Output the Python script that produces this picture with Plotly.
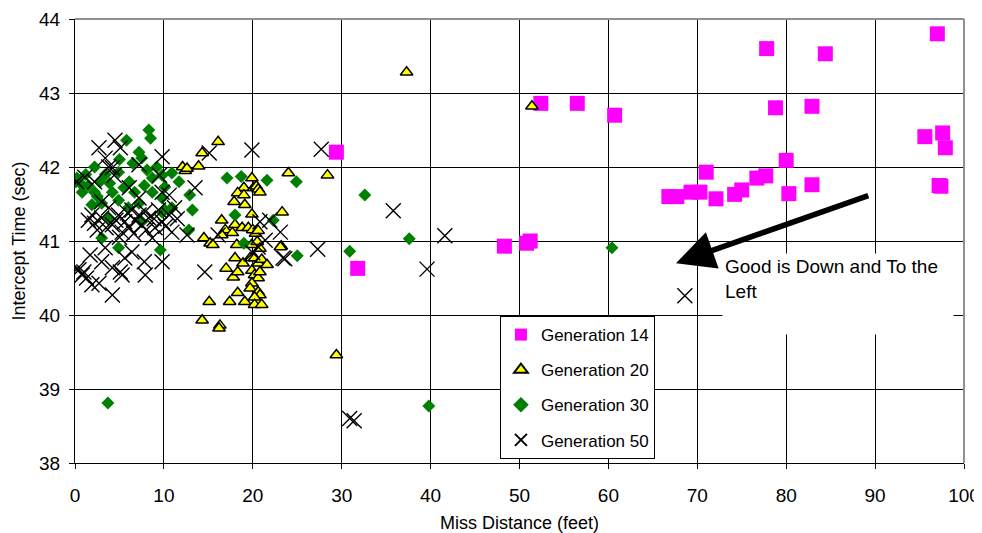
import plotly.graph_objects as go

# ---------------- data ----------------
gen14_x = [29.4, 31.8, 48.3, 50.8, 51.2, 52.4, 56.5, 60.7, 77.8, 84.4, 97.0, 78.8, 82.9, 95.6, 97.6, 97.9,
           80.0, 71.0, 66.8, 67.7, 69.3, 70.3, 72.1, 74.2, 75.0, 76.7, 77.7, 80.3, 82.9, 97.2, 97.4]
gen14_y = [42.2, 40.63, 40.93, 40.97, 41.0, 42.86, 42.86, 42.7, 43.6, 43.53, 43.8, 42.8, 42.82, 42.41, 42.46, 42.26,
           42.09, 41.93, 41.6, 41.6, 41.66, 41.66, 41.57, 41.63, 41.69, 41.85, 41.88, 41.64, 41.76, 41.75, 41.74]

gen20_x = [37.3, 51.4, 29.4, 24.0, 28.4, 23.3, 23.2,
           16.1, 14.3, 12.1, 12.4, 12.6, 13.9, 19.9, 19.0, 18.3, 19.0, 20.1, 20.4, 20.6, 20.8, 17.9, 19.1, 19.9, 16.5,
           16.9, 18.0, 18.8, 17.7, 16.5, 14.5, 15.2, 15.5, 19.5, 20.0, 20.3, 20.6, 18.2, 19.9, 20.5, 20.8, 23.1,
           18.0, 18.9, 19.7, 20.2, 20.6, 21.0, 21.6, 17.0, 17.8, 18.3, 19.9, 20.2, 20.6, 20.8, 19.9, 19.7, 20.6,
           20.8, 20.2, 18.3, 19.1, 17.4, 15.1, 20.2, 21.0, 14.3, 16.3, 16.2]
gen20_y = [43.28, 42.82, 39.46, 41.92, 41.89, 41.39, 40.93,
           42.34, 42.19, 42.0, 41.95, 41.98, 42.01, 41.85, 41.72, 41.65, 41.62, 41.72, 41.74, 41.7, 41.66, 41.53, 41.49, 41.36, 41.28,
           41.15, 41.22, 41.18, 41.11, 41.08, 41.04, 40.97, 40.95, 41.18, 41.15, 41.1, 41.14, 40.95, 40.95, 40.99, 40.9, 40.92,
           40.77, 40.7, 40.77, 40.77, 40.7, 40.75, 40.68, 40.63, 40.51, 40.58, 40.6, 40.54, 40.5, 40.58, 40.43, 40.36, 40.31,
           40.27, 40.24, 40.3, 40.18, 40.18, 40.18, 40.14, 40.14, 39.93, 39.86, 39.82]

gen30_x = [3.7, 39.8, 60.4, 24.9, 32.6, 37.6, 30.9, 25.0,
           17.1, 18.7, 21.6, 12.9, 13.2, 18.0, 22.3, 12.8, 19.0,
           8.3, 8.5, 5.8, 7.2, 7.5, 0.2, 0.1, 2.2, 3.4, 4.9, 6.1, 8.1, 8.7, 9.8, 10.9, 11.7,
           0.8, 2.2, 4.2, 6.7, 8.7, 10.1, 1.9, 3.0, 4.9, 7.2, 9.8, 10.9, 3.0, 4.9, 9.6, 9.8, 7.5, 3.8,
           1.5, 2.8, 5.5, 6.5, 9.2, 1.2, 3.9, 5.0, 7.8, 0.6, 2.5, 6.0, 10.1]
gen30_y = [38.81, 38.77, 40.91, 41.8, 41.62, 41.03, 40.86, 40.8,
           41.85, 41.87, 41.82, 41.62, 41.42, 41.35, 41.28, 41.15, 40.97,
           42.5, 42.39, 42.36, 42.2, 42.12, 41.85, 41.8, 42.0, 41.9, 41.93, 41.8, 41.96, 41.85, 41.89, 41.92, 41.8,
           41.66, 41.66, 41.66, 41.66, 41.66, 41.73, 41.49, 41.51, 41.55, 41.51, 41.58, 41.45, 41.04, 40.91, 40.88, 41.39, 41.26, 41.31,
           41.75, 41.8, 41.72, 42.05, 42.0, 41.9, 41.78, 42.1, 41.75, 41.78, 41.6, 41.45, 41.42]

gen50_x = [68.6, 27.7, 35.8, 41.6, 39.6, 27.3, 30.9, 31.4, 23.6, 19.9, 15.1, 13.5, 12.6, 16.1, 14.6, 21.4, 23.1, 23.4,
           20.0, 20.6, 20.8, 21.9,
           2.7, 4.5, 5.1, 3.4, 3.8, 4.2, 4.4, 0.2, 1.1, 2.2, 9.8, 9.5, 7.2, 7.2, 6.1, 3.0, 9.8, 10.6,
           1.9, 2.2, 3.0, 4.2, 4.9, 5.6, 6.1, 7.2, 7.5, 8.3, 9.0, 9.8, 10.6, 10.9, 8.7, 6.4, 3.8, 5.3,
           2.5, 4.6, 5.9, 6.8, 7.9, 8.9, 9.4, 10.2, 11.5, 5.0, 6.6, 1.5, 3.5, 8.0, 11.2,
           0.45, 0.8, 1.7, 1.9, 3.0, 4.2, 5.1, 5.6, 6.4, 7.8, 7.9, 9.8, 5.3, 4.2, 2.7, 3.4, 1.3, 0.2, 1.0]
gen50_y = [40.26, 42.24, 41.41, 41.07, 40.62, 40.89, 38.6, 38.57, 40.76, 42.23, 42.19, 41.72, 41.08, 41.08, 40.58, 41.01, 41.12, 40.77,
           40.84, 40.92, 41.26, 41.28,
           42.26, 42.36, 42.26, 42.12, 42.0, 41.99, 41.89, 41.8, 41.86, 41.8, 42.14, 41.89, 42.03, 41.58, 41.72, 41.53, 41.66, 41.62,
           41.35, 41.24, 41.31, 41.22, 41.35, 41.26, 41.18, 41.35, 41.22, 41.31, 41.18, 41.26, 41.35, 41.12, 41.04, 41.42, 41.45, 41.12,
           41.15, 41.28, 41.38, 41.28, 41.4, 41.3, 41.42, 41.2, 41.3, 41.05, 41.1, 41.28, 41.18, 41.15, 41.45,
           40.61, 40.54, 40.81, 40.41, 40.72, 40.64, 40.58, 40.77, 40.85, 40.72, 40.54, 40.72, 40.54, 40.27, 40.43, 40.91, 40.5, 40.62, 40.58]

series_names = ["Generation 14", "Generation 20", "Generation 30", "Generation 50"]
x_ticks = [0, 10, 20, 30, 40, 50, 60, 70, 80, 90, 100]
y_ticks = [38, 39, 40, 41, 42, 43, 44]

FONT = "Liberation Sans, Arial, sans-serif"

fig = go.Figure()
fig.add_trace(go.Scatter(x=gen14_x, y=gen14_y, mode="markers", name=series_names[0], legendgroup="a",
                         marker=dict(symbol="square", size=15, color="#FF00FF", line=dict(width=0))))
fig.add_trace(go.Scatter(x=gen20_x, y=gen20_y, mode="markers", name=series_names[1], legendgroup="b",
                         marker=dict(symbol="triangle-up", size=11, color="#FFFF00", line=dict(width=1.5, color="black"))))
fig.add_trace(go.Scatter(x=gen30_x, y=gen30_y, mode="markers", name=series_names[2], legendgroup="c",
                         marker=dict(symbol="diamond", size=10, color="#008000", line=dict(width=0))))
fig.add_trace(go.Scatter(x=gen50_x, y=gen50_y, mode="markers", name=series_names[3], legendgroup="d",
                         marker=dict(symbol="x-thin", size=15, color="black", line=dict(width=1.4, color="black"))))

# The page body has an 8px margin, so the figure is sized to fit the 982x533 window.
fig.update_layout(
    width=974, height=525,
    margin=dict(l=67, r=18, t=11, b=70),
    plot_bgcolor="white", paper_bgcolor="white",
    font=dict(family=FONT, size=18, color="black"),
    showlegend=True,
    legend=dict(x=0.478, y=0.331, xanchor="left", yanchor="top",
                bgcolor="white", bordercolor="black", borderwidth=1,
                font=dict(size=17), tracegroupgap=10, itemsizing="constant"),
    xaxis=dict(range=[0, 100], tickvals=x_ticks, showgrid=True, gridcolor="black", gridwidth=1,
               showline=True, linecolor="black", linewidth=1, zeroline=False, automargin=False,
               ticks="outside", ticklen=5, tickcolor="black", ticklabelstandoff=10,
               tickfont=dict(size=19),
               title=dict(text="Miss Distance (feet)", font=dict(size=18), standoff=12)),
    yaxis=dict(range=[38, 44], tickvals=y_ticks, showgrid=True, gridcolor="black", gridwidth=1,
               showline=True, linecolor="black", linewidth=1, zeroline=False, automargin=False,
               ticks="outside", ticklen=5, tickcolor="black", ticklabelstandoff=5,
               tickfont=dict(size=19),
               title=dict(text="Intercept Time (sec)", font=dict(size=18), standoff=8)),
)

# gray frame on top and right
fig.add_shape(type="line", xref="paper", yref="paper", x0=0, x1=1, y0=1, y1=1,
              line=dict(color="#909090", width=2), layer="above")
fig.add_shape(type="line", xref="paper", yref="paper", x0=1, x1=1, y0=0, y1=1,
              line=dict(color="#909090", width=2), layer="above")

# arrow
fig.add_annotation(x=67.6, y=40.70, ax=89.4, ay=41.62, xref="x", yref="y", axref="x", ayref="y",
                   text="", showarrow=True, arrowhead=2, arrowsize=1.4, arrowwidth=5.5, arrowcolor="black",
                   standoff=0)
# text box
fig.add_annotation(x=72.8, y=40.84, xref="x", yref="y", xanchor="left", yanchor="top",
                   text="Good is Down and To the<br>Left", showarrow=False, align="left", valign="top",
                   width=226, height=76, bgcolor="white", borderpad=2,
                   font=dict(size=19, family=FONT, color="black"))

fig.write_html("out.html")
